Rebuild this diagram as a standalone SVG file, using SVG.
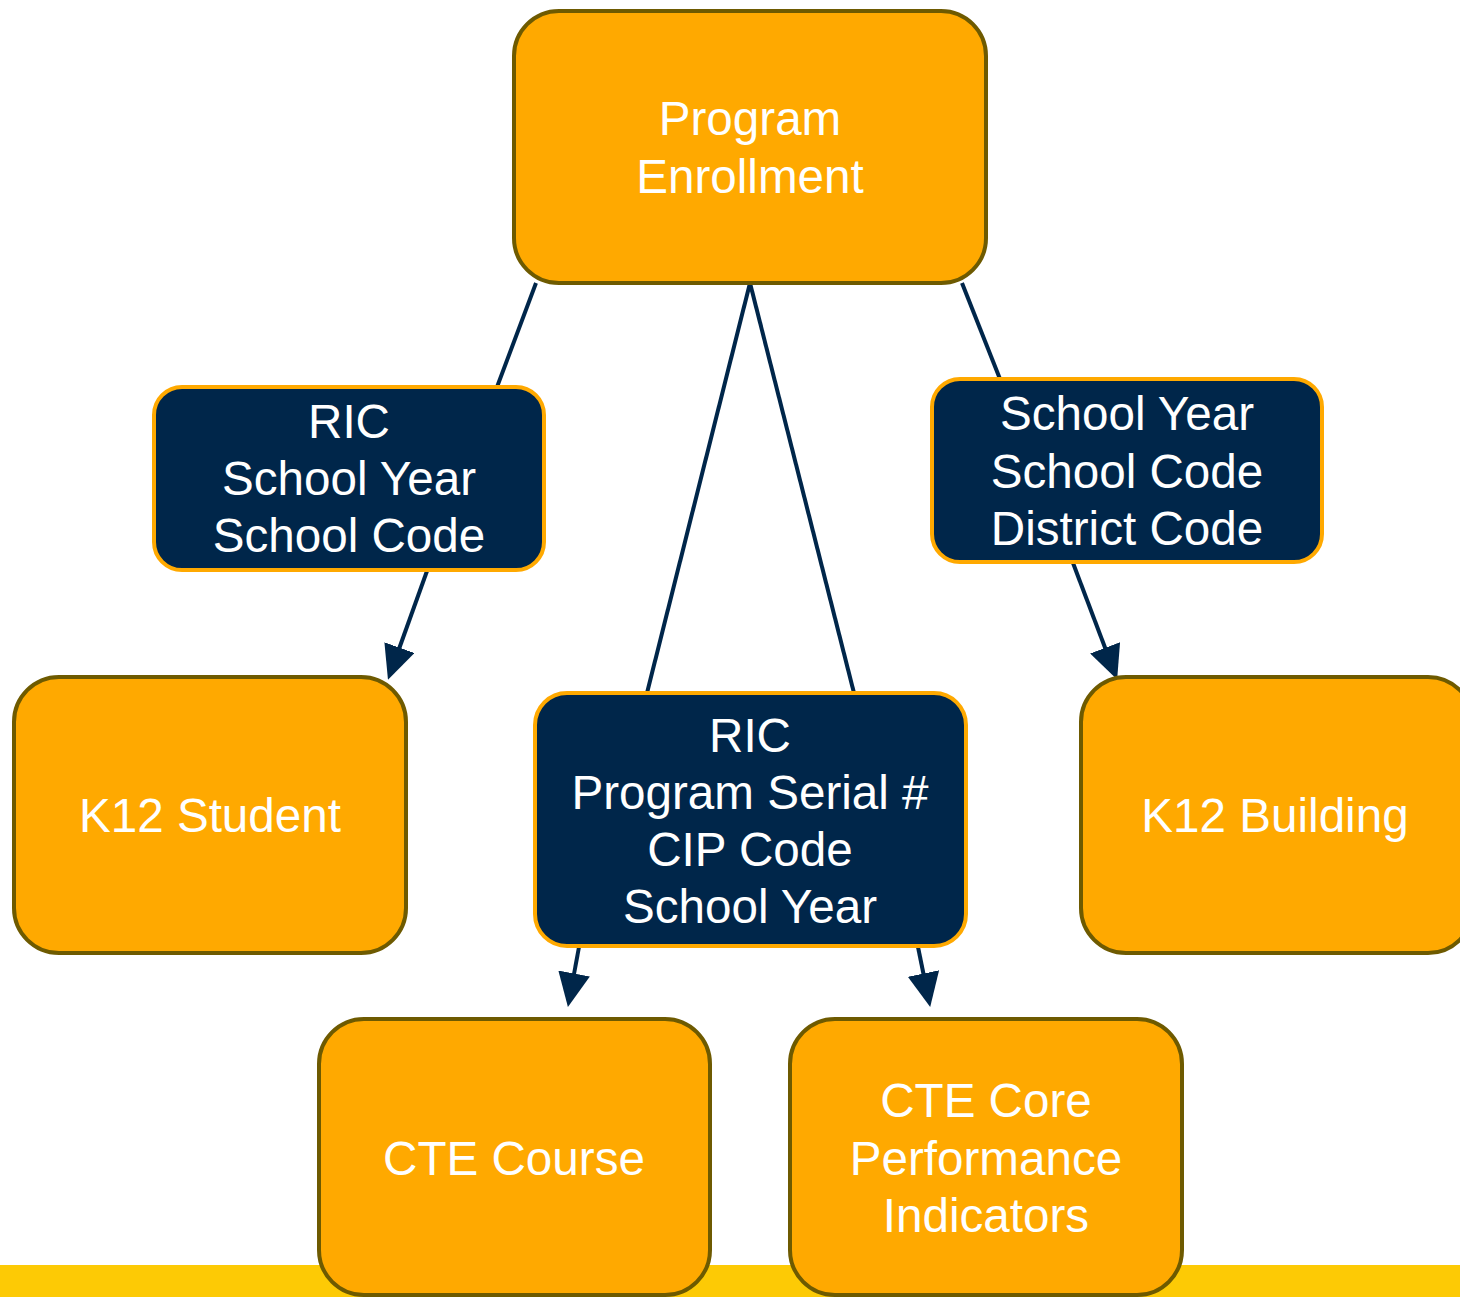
<svg xmlns="http://www.w3.org/2000/svg" width="1460" height="1297" viewBox="0 0 1460 1297">
<style>
.o{fill:#FFA900;stroke:#6E5A00;stroke-width:4}
.d{fill:#00264A;stroke:#FFA900;stroke-width:4}
.t{fill:#fff;font-family:"Liberation Sans",Arial,sans-serif;font-size:47.6px;text-anchor:middle}
.c{stroke:#00264A;stroke-width:4;fill:none}
</style>
<defs>
<marker id="ah" markerWidth="8.5" markerHeight="8" refX="7" refY="4" orient="auto" markerUnits="strokeWidth" viewBox="0 0 8.5 8">
<path d="M0,0 L8.5,4 L0,8 Z" fill="#00264A"/>
</marker>
</defs>
<rect width="1460" height="1297" fill="#fff"/>
<rect x="0" y="1265" width="1460" height="32" fill="#FDCA05"/>
<g id="connectors">
<line class="c" x1="536" y1="283" x2="497" y2="387"/>
<line class="c" x1="427" y1="571" x2="390" y2="674" marker-end="url(#ah)"/>
<line class="c" x1="962" y1="283" x2="1000" y2="379"/>
<line class="c" x1="1073" y1="563" x2="1115" y2="674" marker-end="url(#ah)"/>
<line class="c" x1="750" y1="283" x2="647" y2="693"/>
<line class="c" x1="750" y1="283" x2="854" y2="693"/>
<line class="c" x1="579" y1="947" x2="569" y2="1001" marker-end="url(#ah)"/>
<line class="c" x1="918" y1="947" x2="929" y2="1001" marker-end="url(#ah)"/>
</g>
<g id="program-enrollment">
<rect class="o" x="514" y="11" width="472" height="272" rx="45"/>
<text class="t" x="750" y="135">Program</text>
<text class="t" x="750" y="193">Enrollment</text>
</g>
<g id="key-left">
<rect class="d" x="154" y="387" width="390" height="183" rx="28"/>
<text class="t" x="349" y="438">RIC</text>
<text class="t" x="349" y="495">School Year</text>
<text class="t" x="349" y="552">School Code</text>
</g>
<g id="key-right">
<rect class="d" x="932" y="379" width="390" height="183" rx="28"/>
<text class="t" x="1127" y="430">School Year</text>
<text class="t" x="1127" y="488">School Code</text>
<text class="t" x="1127" y="545">District Code</text>
</g>
<g id="k12-student">
<rect class="o" x="14" y="677" width="392" height="276" rx="45"/>
<text class="t" x="210" y="832">K12 Student</text>
</g>
<g id="key-middle">
<rect class="d" x="535" y="693" width="431" height="253" rx="32"/>
<text class="t" x="750" y="752">RIC</text>
<text class="t" x="750" y="809">Program Serial #</text>
<text class="t" x="750" y="866">CIP Code</text>
<text class="t" x="750" y="923">School Year</text>
</g>
<g id="k12-building">
<rect class="o" x="1081" y="677" width="392" height="276" rx="45"/>
<text class="t" x="1275" y="832">K12 Building</text>
</g>
<g id="cte-course">
<rect class="o" x="319" y="1019" width="391" height="276" rx="45"/>
<text class="t" x="514" y="1175">CTE Course</text>
</g>
<g id="cte-core">
<rect class="o" x="790" y="1019" width="392" height="276" rx="45"/>
<text class="t" x="986" y="1117">CTE Core</text>
<text class="t" x="986" y="1175">Performance</text>
<text class="t" x="986" y="1232">Indicators</text>
</g>
</svg>
